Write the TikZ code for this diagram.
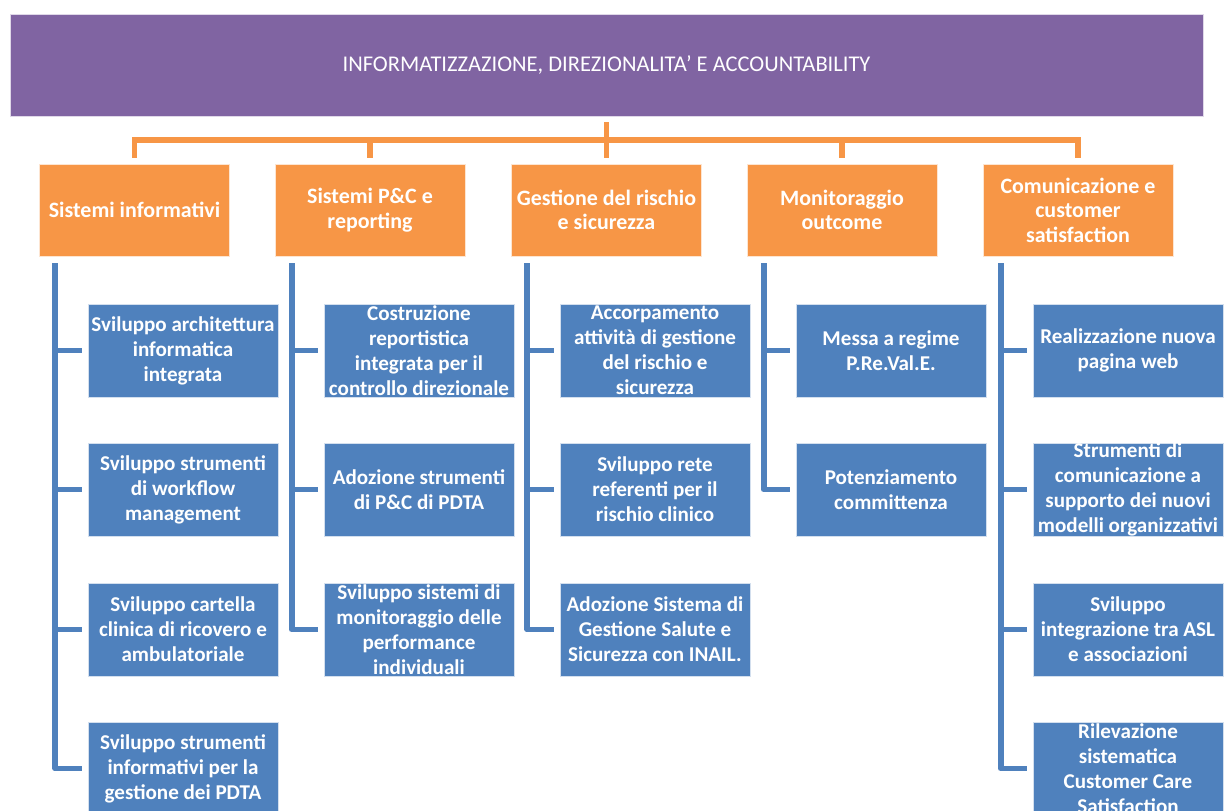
\documentclass[tikz,border=0pt]{standalone}
\usepackage{fontspec}
\setmainfont{Carlito}
\definecolor{titlepurple}{HTML}{8064A2}
\definecolor{headorange}{HTML}{F79646}
\definecolor{itemblue}{HTML}{4F81BD}
\tikzstyle{every node}=[align=center]
\tikzstyle{titlebox}=[fill=titlepurple, draw=white!75!titlepurple, text=white, minimum width=23.86cm, minimum height=2.04cm, font=\fontsize{12.8}{15}\selectfont]
\tikzstyle{headbox}=[fill=headorange, draw=white!75!headorange, text=white, minimum width=3.8cm, minimum height=1.84cm, inner sep=1pt, font=\bfseries\fontsize{12.5}{14}\selectfont]
\tikzstyle{itembox}=[fill=itemblue, draw=white!75!itemblue, text=white, minimum width=3.8cm, minimum height=1.86cm, inner sep=0pt, font=\bfseries\fontsize{12}{14.2}\selectfont]
\tikzstyle{orangelink}=[draw=headorange, line width=3.3pt]
\tikzstyle{bluelink}=[draw=itemblue, line width=3.3pt, line join=round]

\begin{document}
\begin{tikzpicture}[x=0.02cm,y=-0.02cm]
\useasboundingbox (0,0) rectangle (1224,811);

\node[titlebox] (title) at (606.5,65) {INFORMATIZZAZIONE, DIREZIONALITA’ E ACCOUNTABILITY};

% aree
\node[headbox] (h1) at (134.5,210) {Sistemi informativi};
\node[headbox] (h2) at (370,210) {Sistemi P\&C e\\reporting};
\node[headbox] (h3) at (606.5,210) {Gestione del rischio\\e sicurezza};
\node[headbox] (h4) at (842,210) {Monitoraggio\\outcome};
\node[headbox] (h5) at (1078,210) {Comunicazione e\\customer\\satisfaction};

% azioni
\node[itembox] (b11) at (183,350.5) {Sviluppo architettura\\informatica\\integrata};
\node[itembox] (b12) at (183,489.5) {Sviluppo strumenti\\di workflow\\management};
\node[itembox] (b13) at (183,629.5) {Sviluppo cartella\\clinica di ricovero e\\ambulatoriale};
\node[itembox] (b14) at (183,768.5) {Sviluppo strumenti\\informativi per la\\gestione dei PDTA};

\node[itembox] (b21) at (419,350.5) {Costruzione\\reportistica\\integrata per il\\controllo direzionale};
\node[itembox] (b22) at (419,489.5) {Adozione strumenti\\di P\&C di PDTA};
\node[itembox] (b23) at (419,629.5) {Sviluppo sistemi di\\monitoraggio delle\\performance\\individuali};

\node[itembox] (b31) at (655,350.5) {Accorpamento\\attività di gestione\\del rischio e\\sicurezza};
\node[itembox] (b32) at (655,489.5) {Sviluppo rete\\referenti per il\\rischio clinico};
\node[itembox] (b33) at (655,629.5) {Adozione Sistema di\\Gestione Salute e\\Sicurezza con INAIL.};

\node[itembox] (b41) at (891,350.5) {Messa a regime\\P.Re.Val.E.};
\node[itembox] (b42) at (891,489.5) {Potenziamento\\committenza};

\node[itembox] (b51) at (1128,350.5) {Realizzazione nuova\\pagina web};
\node[itembox] (b52) at (1128,489.5) {Strumenti di\\comunicazione a\\supporto dei nuovi\\modelli organizzativi};
\node[itembox] (b53) at (1128,629.5) {Sviluppo\\integrazione tra ASL\\e associazioni};
\node[itembox] (b54) at (1128,768.5) {Rilevazione\\sistematica\\Customer Care\\Satisfaction};

% collegamenti arancio
\coordinate (bar) at (606.5,140);
\draw[orangelink] ([yshift=-0.12cm]title.south) -- (bar);
\draw[orangelink] (bar) -| ([yshift=0.12cm]h1.north);
\draw[orangelink] (bar) -| ([yshift=0.12cm]h2.north);
\draw[orangelink] (bar) -- ([yshift=0.12cm]h3.north);
\draw[orangelink] (bar) -| ([yshift=0.12cm]h4.north);
\draw[orangelink] (bar) -| ([yshift=0.12cm]h5.north);

% collegamenti blu
\draw[bluelink] ([xshift=0.32cm,yshift=-0.14cm]h1.south west) |- ([xshift=-0.12cm]b14.west);
\draw[bluelink] ([xshift=-0.64cm]b11.west) -- ([xshift=-0.12cm]b11.west);
\draw[bluelink] ([xshift=-0.64cm]b12.west) -- ([xshift=-0.12cm]b12.west);
\draw[bluelink] ([xshift=-0.64cm]b13.west) -- ([xshift=-0.12cm]b13.west);

\draw[bluelink] ([xshift=0.34cm,yshift=-0.14cm]h2.south west) |- ([xshift=-0.12cm]b23.west);
\draw[bluelink] ([xshift=-0.64cm]b21.west) -- ([xshift=-0.12cm]b21.west);
\draw[bluelink] ([xshift=-0.64cm]b22.west) -- ([xshift=-0.12cm]b22.west);

\draw[bluelink] ([xshift=0.32cm,yshift=-0.14cm]h3.south west) |- ([xshift=-0.12cm]b33.west);
\draw[bluelink] ([xshift=-0.64cm]b31.west) -- ([xshift=-0.12cm]b31.west);
\draw[bluelink] ([xshift=-0.64cm]b32.west) -- ([xshift=-0.12cm]b32.west);

\draw[bluelink] ([xshift=0.34cm,yshift=-0.14cm]h4.south west) |- ([xshift=-0.12cm]b42.west);
\draw[bluelink] ([xshift=-0.64cm]b41.west) -- ([xshift=-0.12cm]b41.west);

\draw[bluelink] ([xshift=0.36cm,yshift=-0.14cm]h5.south west) |- ([xshift=-0.12cm]b54.west);
\draw[bluelink] ([xshift=-0.64cm]b51.west) -- ([xshift=-0.12cm]b51.west);
\draw[bluelink] ([xshift=-0.64cm]b52.west) -- ([xshift=-0.12cm]b52.west);
\draw[bluelink] ([xshift=-0.64cm]b53.west) -- ([xshift=-0.12cm]b53.west);
\end{tikzpicture}
\end{document}
